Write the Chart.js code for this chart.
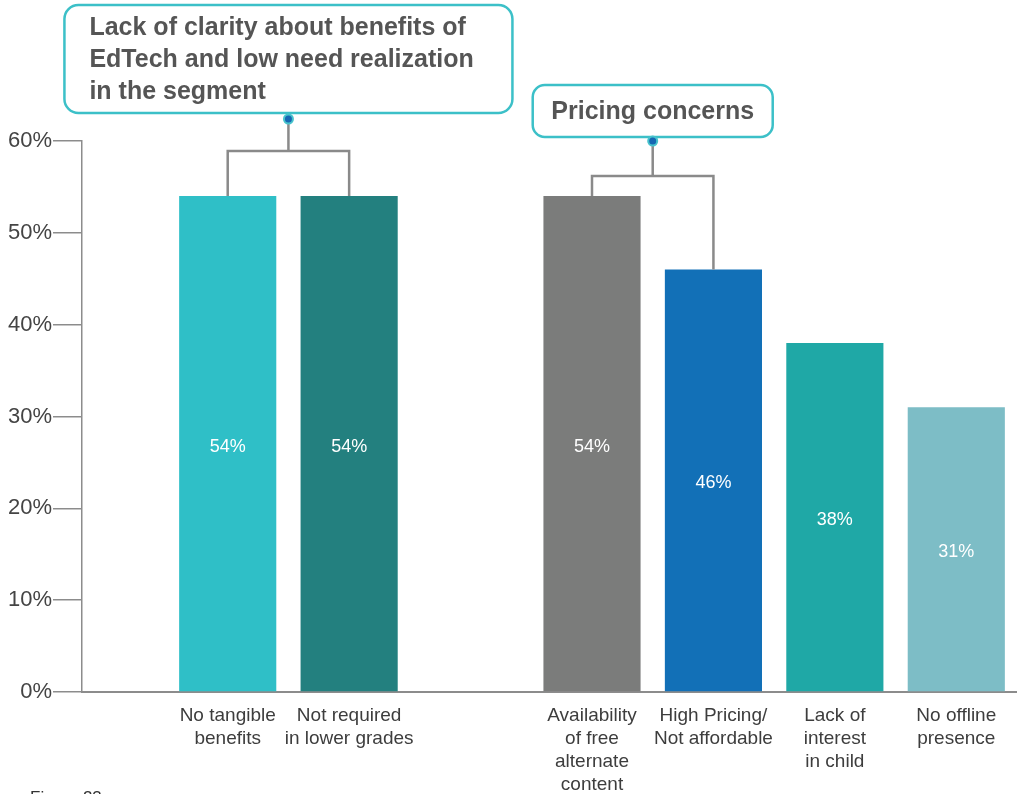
<!DOCTYPE html>
<html>
<head>
<meta charset="utf-8">
<script src="https://cdn.jsdelivr.net/npm/chart.js@4/dist/chart.umd.min.js"></script>
<style>
  html, body { margin: 0; padding: 0; background: #fff; }
  #wrap { width: 1017px; height: 794px; position: relative; }
</style>
</head>
<body>
<div id="wrap"><canvas id="barrierChart"></canvas></div>
<script>
// categories (an empty entry keeps the gap between the two groups)
const categories = [
  ['No tangible', 'benefits'],
  ['Not required', 'in lower grades'],
  [],
  ['Availability', 'of free', 'alternate', 'content'],
  ['High Pricing/', 'Not affordable'],
  ['Lack of', 'interest', 'in child'],
  ['No offline', 'presence']
];
const shares = [54, 54, null, 54, 46, 38, 31];
const barColors = ['#2fbfc7', '#23807f', null, '#7b7c7b', '#1270b7', '#1fa8a6', '#7dbdc6'];
const yTicks = [0, 10, 20, 30, 40, 50, 60];

const callouts = [
  { lines: ['Lack of clarity about benefits of', 'EdTech and low need realization', 'in the segment'], from: 0, to: 1 },
  { lines: ['Pricing concerns'], from: 3, to: 4 }
];

const FONT = '"Liberation Sans", Arial, Helvetica, sans-serif';
Chart.defaults.font.family = FONT;

// box geometry for the two callouts (annotation layout only)
const boxLayout = [
  { top: 5, height: 108, width: 448, radius: 14, align: 'left', pad: 25, lineGap: 32, dotY: 119, bracketY: 151 },
  { top: 85, height: 52, width: 240, radius: 12, align: 'center', pad: 0, lineGap: 32, dotY: 141, bracketY: 176 }
];

const overlayPlugin = {
  id: 'overlay',
  afterDatasetsDraw(chart) {
    const ctx = chart.ctx;
    const bars = chart.getDatasetMeta(0).data;

    // value labels inside bars
    ctx.save();
    ctx.fillStyle = '#ffffff';
    ctx.font = '18px ' + FONT;
    ctx.textAlign = 'center';
    ctx.textBaseline = 'middle';
    shares.forEach((v, i) => {
      if (v === null) return;
      const b = bars[i];
      ctx.fillText(v + '%', b.x, (b.y + b.base) / 2 + 3);
    });
    ctx.restore();

    // callouts with brackets
    callouts.forEach((c, k) => {
      const L = boxLayout[k];
      const a = bars[c.from], b = bars[c.to];
      const mid = (a.x + b.x) / 2;

      ctx.save();
      ctx.strokeStyle = '#8a8a8a';
      ctx.lineWidth = 2.5;
      ctx.beginPath();
      ctx.moveTo(a.x, a.y);
      ctx.lineTo(a.x, L.bracketY);
      ctx.lineTo(b.x, L.bracketY);
      ctx.lineTo(b.x, b.y);
      ctx.moveTo(mid, L.bracketY);
      ctx.lineTo(mid, L.dotY);
      ctx.stroke();

      const left = mid - L.width / 2;
      ctx.beginPath();
      ctx.roundRect(left, L.top, L.width, L.height, L.radius);
      ctx.fillStyle = '#ffffff';
      ctx.fill();
      ctx.strokeStyle = '#3cc0c8';
      ctx.lineWidth = 2.5;
      ctx.stroke();

      ctx.fillStyle = '#555555';
      ctx.font = 'bold 25px ' + FONT;
      ctx.textBaseline = 'middle';
      ctx.textAlign = L.align;
      const tx = L.align === 'left' ? left + L.pad : mid;
      const firstY = L.top + L.height / 2 - (c.lines.length - 1) * L.lineGap / 2;
      c.lines.forEach((line, j) => ctx.fillText(line, tx, firstY + j * L.lineGap + 1));

      ctx.beginPath();
      ctx.arc(mid, L.dotY, 5.5, 0, Math.PI * 2);
      ctx.fillStyle = '#47c3cc';
      ctx.fill();
      ctx.beginPath();
      ctx.arc(mid, L.dotY, 3.5, 0, Math.PI * 2);
      ctx.fillStyle = '#1667b3';
      ctx.fill();
      ctx.restore();
    });

    // figure caption, cut by the bottom edge
    ctx.save();
    ctx.fillStyle = '#333';
    ctx.font = '17px ' + FONT;
    ctx.textAlign = 'left';
    ctx.textBaseline = 'alphabetic';
    ctx.fillText('Figure 23', 30, 803);
    ctx.restore();
  }
};

const ctx = document.getElementById('barrierChart').getContext('2d');
new Chart(ctx, {
  type: 'bar',
  data: {
    datasets: [{
      data: shares.map((v, i) => ({ x: i, y: v })),
      backgroundColor: barColors,
      borderWidth: 0,
      categoryPercentage: 1,
      barPercentage: 0.8
    }]
  },
  options: {
    responsive: true,
    maintainAspectRatio: false,
    animation: false,
    layout: { padding: { top: 141, left: 0, right: 0, bottom: 0 } },
    plugins: {
      legend: { display: false },
      tooltip: { enabled: false }
    },
    scales: {
      x: {
        type: 'linear',
        offset: false,
        min: -1.2,
        max: 6.5,
        afterBuildTicks: (scale) => {
          scale.ticks = categories
            .map((c, i) => ({ value: i }))
            .filter(t => categories[t.value].length);
        },
        afterFit: (scale) => { scale.height = 102; },
        grid: { display: false, drawTicks: false, offset: false },
        border: { display: true, color: '#8c8c8c', width: 2 },
        ticks: {
          autoSkip: false,
          maxRotation: 0,
          padding: 12,
          color: '#3d3d3d',
          font: { size: 19, lineHeight: 1.22 },
          callback: (value) => categories[value] || ''
        }
      },
      y: {
        min: 0,
        max: 60,
        afterBuildTicks: (scale) => {
          scale.ticks = yTicks.map(v => ({ value: v }));
        },
        afterFit: (scale) => { scale.width = 82; },
        grid: {
          drawOnChartArea: false,
          drawTicks: true,
          tickLength: 29,
          color: '#8c8c8c',
          lineWidth: 1.5
        },
        border: { display: true, color: '#8c8c8c', width: 1.5 },
        ticks: {
          padding: 1,
          color: '#444',
          font: { size: 22 },
          callback: (v) => v + '%'
        }
      }
    }
  },
  plugins: [overlayPlugin]
});
</script>
</body>
</html>
